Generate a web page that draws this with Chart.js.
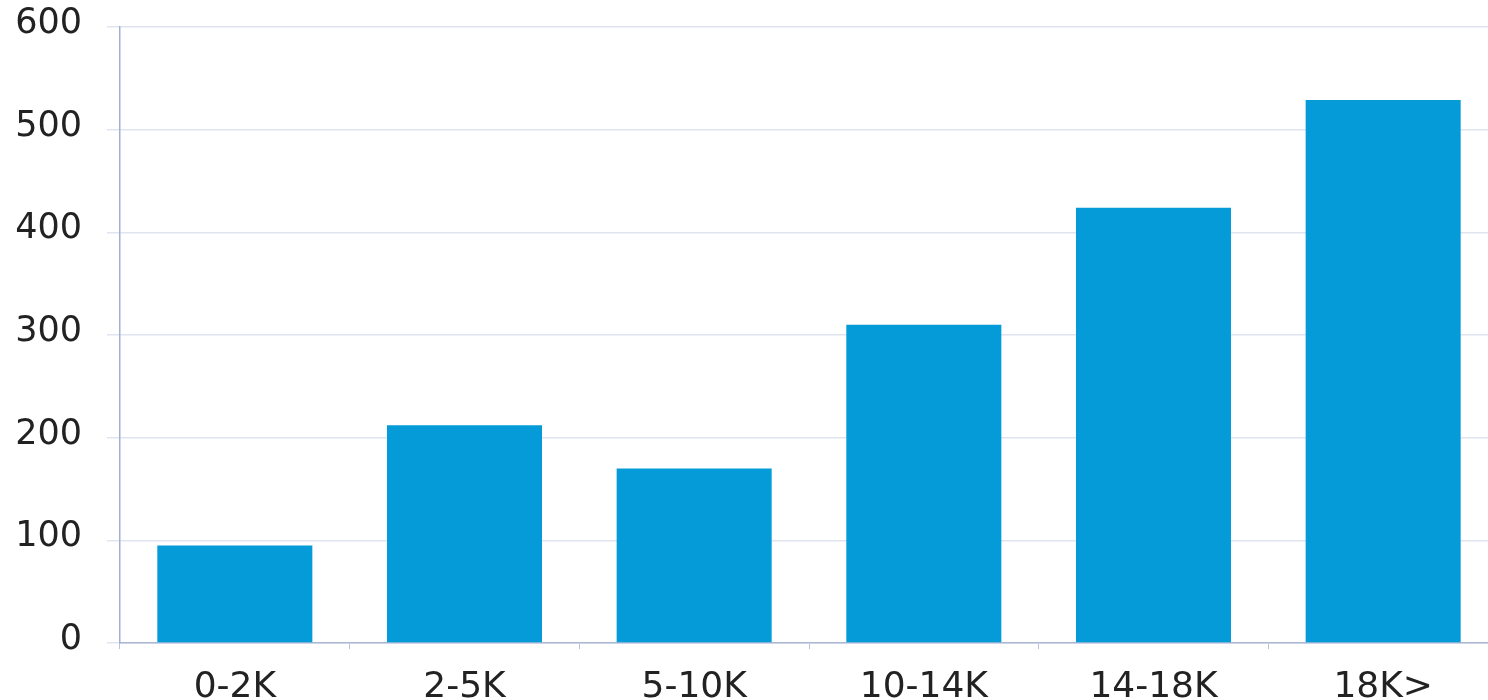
<!DOCTYPE html>
<html>
<head>
<meta charset="utf-8">
<script src="https://cdn.jsdelivr.net/npm/chart.js@4/dist/chart.umd.min.js"></script>
<style>
html,body{margin:0;padding:0;background:#fff;overflow:hidden;}
#wrap{width:1498px;height:700px;position:relative;}
</style>
</head>
<body>
<div id="wrap"><canvas id="c"></canvas></div>
<script>
const categories = ['0-2K', '2-5K', '5-10K', '10-14K', '14-18K', '18K>'];
const values = [95, 212, 170, 310, 424, 529];
const yTicks = [0, 100, 200, 300, 400, 500, 600];

new Chart(document.getElementById('c'), {
  type: 'bar',
  data: {
    labels: categories,
    datasets: [{
      data: values,
      backgroundColor: '#059bd9',
      borderWidth: 0,
      barPercentage: 0.9,
      categoryPercentage: 0.75
    }]
  },
  options: {
    responsive: true,
    maintainAspectRatio: false,
    animation: false,
    layout: { padding: { left: 0, top: 27, right: 0, bottom: 0 } },
    plugins: { legend: { display: false }, tooltip: { enabled: false } },
    scales: {
      x: {
        afterFit: (s) => { s.height = 57; s.paddingLeft = 0; s.paddingRight = 0; },
        grid: { drawOnChartArea: false, color: '#b9c4da', tickLength: 6, offset: true },
        border: { color: '#aab8d6', width: 1.5 },
        ticks: { color: '#222222', font: { family: 'DejaVu Sans', size: 36 }, padding: 17, maxRotation: 0 }
      },
      y: {
        min: 0, max: 600,
        afterFit: (s) => { s.width = 120; s.paddingTop = 0; s.paddingBottom = 0; },
        afterBuildTicks: (s) => { s.ticks = yTicks.map(v => ({ value: v })); },
        grid: { color: '#dfe4ef', tickLength: 13, lineWidth: 1.5 },
        border: { color: '#9fb0d4', width: 1.5 },
        ticks: { color: '#222222', font: { family: 'DejaVu Sans', size: 35 }, padding: 25, labelOffset: -3 }
      }
    }
  }
});
</script>
</body>
</html>
